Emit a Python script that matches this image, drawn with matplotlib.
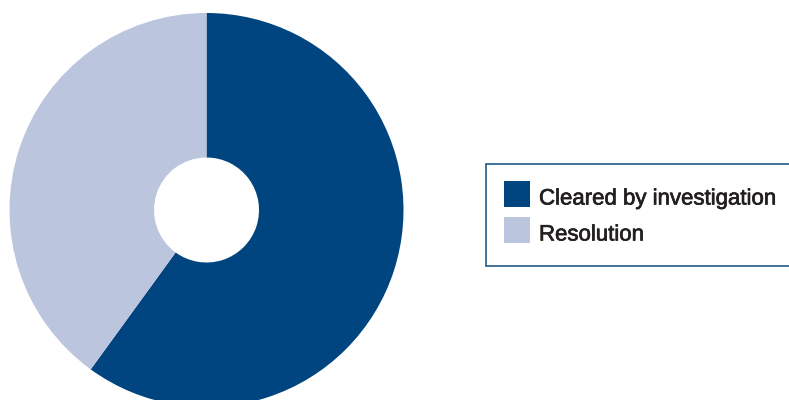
import matplotlib.pyplot as plt
import matplotlib.patheffects as pe
from matplotlib.patches import Rectangle

labels = ['Cleared by investigation', 'Resolution']
values = [60, 40]
colors = ['#00457f', '#bcc5de']

W, H = 789, 400
fig = plt.figure(figsize=(W / 100, H / 100), dpi=100)

# pie axes: centre (206.5, 210) px from top-left, radius 197 px
cx, cy, r = 206.5, 210, 197
ax = fig.add_axes([(cx - r) / W, (H - cy - r) / H, 2 * r / W, 2 * r / H])
ax.pie(values, colors=colors, startangle=90, counterclock=False,
       radius=1, wedgeprops=dict(width=1 - 52.5 / r, linewidth=0))
ax.set_xlim(-1, 1)
ax.set_ylim(-1, 1)
ax.set_aspect('equal')
ax.axis('off')


def px(x, y):
    return x / W, 1 - y / H


# legend box, running off the right edge
x0, y0 = px(486, 266)
fig.patches.append(Rectangle((x0, y0), (800 - 486) / W, (266 - 164) / H,
                             transform=fig.transFigure, facecolor='white',
                             edgecolor='#1f5c8e', linewidth=1.2))

for i, (lab, col) in enumerate(zip(labels, colors)):
    top = 181 + i * 36
    sx, sy = px(504, top + 26)
    fig.patches.append(Rectangle((sx, sy), 26 / W, 26 / H,
                                 transform=fig.transFigure, facecolor=col,
                                 edgecolor='none'))
    tx, ty = px(539, top + 23.5)
    fig.text(tx, ty, lab, fontsize=16.0, color='#231f20',
             family='Liberation Sans', va='baseline', ha='left',
             path_effects=[pe.withStroke(linewidth=0.5, foreground='#231f20')])

fig.savefig('out.png', dpi=100)
